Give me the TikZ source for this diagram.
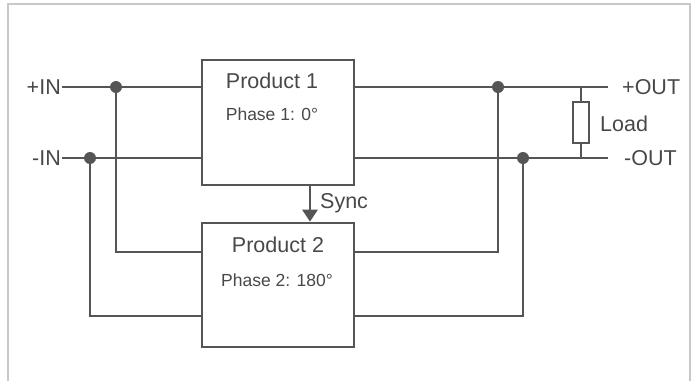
\documentclass[tikz,border=0pt]{standalone}
\usepackage{fontspec}
\setmainfont{Liberation Sans}
\usetikzlibrary{arrows.meta}
\definecolor{wire}{HTML}{555555}
\definecolor{ink}{HTML}{484848}
\definecolor{frame}{HTML}{C8C8C8}
\tikzset{
  wireline/.style={draw=wire, line width=2.6pt},
  block/.style={wireline, rectangle, inner sep=0pt, minimum width=152pt},
  lbl/.style={text=ink, inner sep=0pt, font=\fontsize{21.5}{25}\selectfont},
  title/.style={text=ink, inner sep=0pt, font=\fontsize{21.5}{25}\selectfont},
  phase/.style={text=ink, inner sep=0pt, font=\fontsize{17.5}{21}\selectfont},
  junction/.style={circle, fill=wire, inner sep=0pt, minimum size=12pt},
  resistor/.style={draw=wire, line width=2pt, rectangle, inner sep=0pt,
                   minimum width=16pt, minimum height=41pt, fill=white},
}
\begin{document}
\begin{tikzpicture}[x=1pt, y=-1pt]
  \useasboundingbox (0,0) rectangle (699,381);
  % outer frame, open at the bottom
  \draw[frame, line width=1.5pt] (8,381) -- (8,4) -- (690,4) -- (690,381);

  % converter blocks
  \node[block, minimum height=125pt] (p1) at (278,122.5) {};
  \node[block, minimum height=124pt] (p2) at (278,285) {};
  \node[title] (t1) at (272,81) {Product 1};
  \node[phase] (f1) at (272,114) {Phase 1: 0°};
  \node[title] (t2) at (278,245) {Product 2};
  \node[phase] (f2) at (277,280) {Phase 2: 180°};

  % terminals
  \node[lbl, anchor=east] (inp) at (61,87) {+IN};
  \node[lbl, anchor=east] (inn) at (61,158) {-IN};
  \node[lbl, anchor=west] (outp) at (622,87) {+OUT};
  \node[lbl, anchor=west] (outn) at (624,158) {-OUT};

  % wire end points and junctions
  \coordinate (inpS) at (62,87);
  \coordinate (innS) at (62,158);
  \coordinate (outpE) at (608,87);
  \coordinate (outnE) at (608,158);
  \coordinate (ja) at (116,87);
  \coordinate (jb) at (90,158);
  \coordinate (jc) at (498,87);
  \coordinate (jd) at (523,158);
  \coordinate (p2ia) at (202,252);
  \coordinate (p2ib) at (202,316);
  \coordinate (p2oa) at (354,252);
  \coordinate (p2ob) at (354,316);

  % input side
  \draw[wireline] (inpS) -- (p1.west |- inpS);
  \draw[wireline] (innS) -- (p1.west |- innS);
  \draw[wireline] (ja) |- (p2ia);
  \draw[wireline] (jb) |- (p2ib);

  % output side
  \draw[wireline] (p1.east |- outpE) -- (outpE);
  \draw[wireline] (p1.east |- outnE) -- (outnE);
  \draw[wireline] (jc) |- (p2oa);
  \draw[wireline] (jd) |- (p2ob);

  \node[junction] (da) at (ja) {};
  \node[junction] (db) at (jb) {};
  \node[junction] (dc) at (jc) {};
  \node[junction] (dd) at (jd) {};

  % load resistor
  \node[resistor] (load) at (581,122.5) {};
  \coordinate (lt) at (581,87);
  \coordinate (lb) at (581,158);
  \draw[draw=wire, line width=2pt] (lt) -- (load.north);
  \draw[draw=wire, line width=2pt] (load.south) -- (lb);
  \node[lbl, anchor=west] (loadl) at (600,124) {Load};

  % synchronisation link
  \draw[wireline, -{Triangle[width=15pt,length=12pt]}] (p1.south -| 310,0) -- (p2.north -| 310,0);
  \node[lbl, anchor=west] (sync) at (320,203) {Sync};
\end{tikzpicture}
\end{document}
